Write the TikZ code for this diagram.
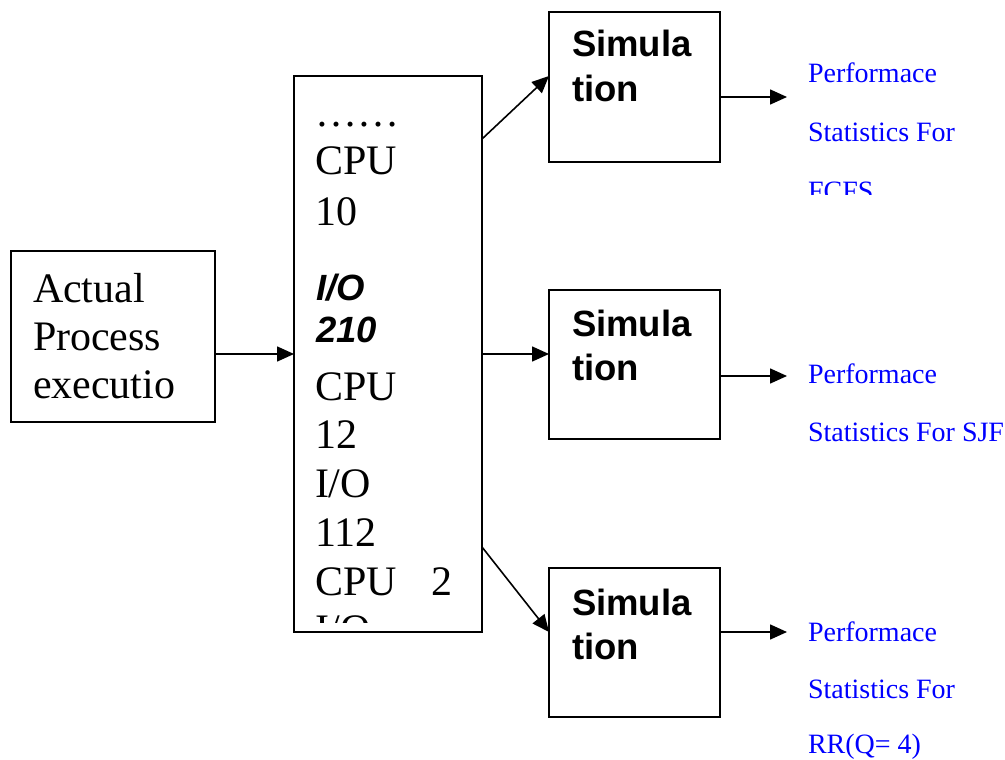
\documentclass[tikz,border=0pt]{standalone}
\usepackage{fontspec}
\setmainfont{Liberation Serif}
\newfontfamily\arialfont{Liberation Sans}
\usetikzlibrary{arrows.meta,calc}
\definecolor{statblue}{RGB}{0,0,255}

\begin{document}
\begin{tikzpicture}[x=1pt,y=-1pt,
  box/.style={draw,line width=1.6pt,inner sep=0pt,outer sep=0pt},
  arr/.style={line width=1.6pt,-{Triangle[length=17pt,width=15pt]}},
  ln/.style={anchor=base west,inner sep=0pt,outer sep=0pt},
  serif/.style={font=\fontsize{42}{48}\selectfont},
  simtxt/.style={font=\arialfont\bfseries\fontsize{36.5}{44}\selectfont},
  bitxt/.style={font=\arialfont\bfseries\itshape\fontsize{36.5}{44}\selectfont},
  stat/.style={text=statblue,font=\fontsize{28}{57}\selectfont}]

\useasboundingbox (0,0) rectangle (1005,760);

% boxes
\node[box,minimum width=204pt,minimum height=171pt] (actual) at (113,336.5) {};
\node[box,minimum width=188pt,minimum height=556pt] (trace) at (388,354) {};
\node[box,minimum width=171pt,minimum height=150pt] (sim1) at (634.5,87) {};
\node[box,minimum width=171pt,minimum height=149pt] (sim2) at (634.5,364.5) {};
\node[box,minimum width=171pt,minimum height=149pt] (sim3) at (634.5,642.5) {};

% left box text
\node[ln,serif] (a1) at (33,302) {Actual};
\node[ln,serif] (a2) at (33,350) {Process};
\node[ln,serif] (a3) at (33,398) {executio};

% burst trace, cut off at the bottom edge of the box
\begin{scope}
  \clip (294,76) rectangle (482,622);
  \node[ln,serif] (m1) at (315,126) {……};
  \node[ln,serif] (m2) at (315,175) {CPU};
  \node[ln,serif] (m3) at (315,225) {10};
  \node[ln,bitxt] (m4) at (316,300) {I/O};
  \node[ln,bitxt] (m5) at (316,342) {210};
  \node[ln,serif] (m6) at (315,400) {CPU};
  \node[ln,serif] (m7) at (315,448) {12};
  \node[ln,serif] (m8) at (315,497) {I/O};
  \node[ln,serif] (m9) at (315,546) {112};
  \node[ln,serif] (m10) at (315,595) {CPU\hspace{35pt}2};
  \node[ln,serif] (m11) at (315,643) {I/O};
\end{scope}

% simulation boxes text
\node[ln,simtxt] (s1a) at (572,57) {Simula};
\node[ln,simtxt] (s1b) at (572,102) {tion};
\node[ln,simtxt] (s2a) at (572,336) {Simula};
\node[ln,simtxt] (s2b) at (572,380) {tion};
\node[ln,simtxt] (s3a) at (572,615) {Simula};
\node[ln,simtxt] (s3b) at (572,659) {tion};

% statistics labels
\begin{scope}
  \clip (790,0) rectangle (1005,194);
  \node[ln,stat] (p1a) at (808,83) {Performace};
  \node[ln,stat] (p1b) at (808,142) {Statistics For};
  \node[ln,stat] (p1c) at (808,200) {FCFS};
\end{scope}
\node[ln,stat] (p2a) at (808,383) {Performace};
\node[ln,stat] (p2b) at (808,441) {Statistics For SJF};
\node[ln,stat] (p3a) at (808,641) {Performace};
\node[ln,stat] (p3b) at (808,698) {Statistics For};
\node[ln,stat] (p3c) at (808,753) {RR(Q= 4)};

% arrow ends in front of the statistics labels
\coordinate (o1) at (787,97);
\coordinate (o2) at (787,376);
\coordinate (o3) at (787,632);

% connectors
\draw[arr] (actual.east |- trace.west) -- (trace.west);
\draw[arr] ($(trace.north east)+(0,63)$) -- ($(sim1.north west)+(0,64)$);
\draw[arr] (trace.east) -- (sim2.west |- trace.east);
\draw[arr] ($(trace.south east)+(0,-85)$) -- ($(sim3.north west)+(0,64)$);
\draw[arr] (sim1.east |- o1) -- (o1);
\draw[arr] (sim2.east |- o2) -- (o2);
\draw[arr] (sim3.east |- o3) -- (o3);
\end{tikzpicture}
\end{document}
